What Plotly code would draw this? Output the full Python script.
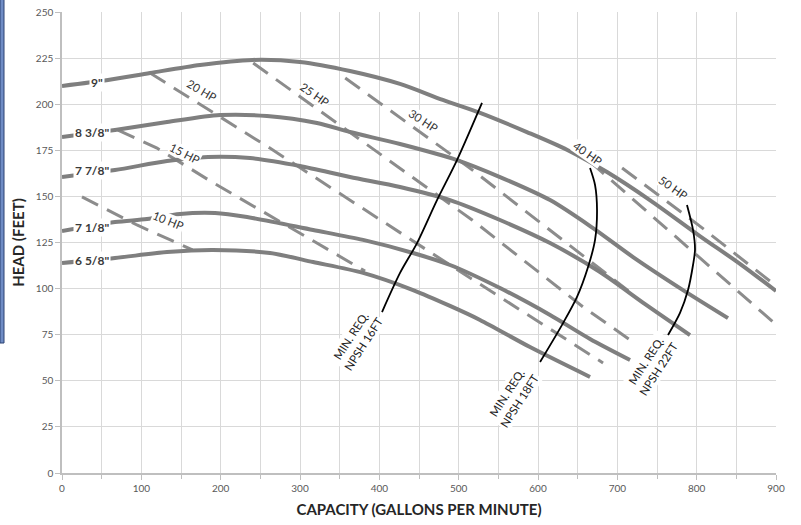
import plotly.graph_objects as go

# ---------------- data ----------------
# Impeller curves (capacity gpm, head ft)
imp_9_x = [0, 58, 111, 174, 240, 300, 363, 426, 480, 527, 586, 637, 687, 741, 804, 855, 900]
imp_9_y = [209.9, 213.1, 216.9, 221.3, 224.0, 222.9, 218.0, 211.0, 202.3, 195.3, 184.9, 175.2, 163.2, 148.0, 128.5, 113.3, 98.7]

imp_838_x = [0, 66.8, 132.4, 199.2, 258.4, 321.4, 363.0, 426.1, 497.9, 552.1, 615.2, 669.4, 719.8, 782.8, 839.5]
imp_838_y = [182.2, 186.0, 190.3, 194.1, 193.6, 189.8, 184.9, 178.4, 169.7, 160.5, 148.0, 132.8, 117.1, 99.2, 84.0]

imp_778_x = [0, 66.8, 132.4, 184.0, 237.0, 300.0, 363.0, 426.1, 489.1, 552.1, 615.2, 678.2, 735.0, 791.6]
imp_778_y = [160.5, 164.3, 169.2, 171.4, 170.8, 166.5, 160.5, 155.1, 148.0, 137.2, 124.7, 109.0, 91.6, 74.8]

imp_718_x = [0, 66.8, 107.1, 148.7, 192.9, 233.3, 316.5, 379.5, 442.5, 489.1, 552.1, 615.2, 665.6, 716.0]
imp_718_y = [131.2, 136.1, 137.7, 140.5, 141.0, 138.8, 131.8, 126.4, 119.3, 112.8, 100.3, 85.7, 72.7, 61.3]

imp_658_x = [0, 66.8, 132.4, 190.3, 262.2, 316.5, 379.5, 442.5, 489.1, 526.9, 589.9, 665.6]
imp_658_y = [113.9, 116.6, 119.8, 120.9, 119.3, 114.4, 108.5, 99.2, 90.6, 83.0, 68.3, 52.1]

impeller_names = ['9"', '8 3/8"', '7 7/8"', '7 1/8"', '6 5/8"']

# Horsepower lines
hp10_x = [25.2, 94.5, 164.5]
hp10_y = [149.7, 134.5, 121.0]
hp15_x = [70.6, 119.8, 189.0, 287.0, 382.0]
hp15_y = [186.0, 176.2, 157.8, 133.4, 109.5]
hp20_x = [111.0, 262.0, 489.0, 682.0]
hp20_y = [216.9, 176.2, 112.8, 59.7]
hp25_x = [241.0, 329.0, 517.0, 657.0, 720.0]
hp25_y = [222.3, 195.2, 137.2, 90.0, 71.0]
hp30_x = [357.0, 514.0, 719.0]
hp30_y = [214.2, 165.4, 97.1]
hp40_x = [666.0, 804.0, 900.0]
hp40_y = [168.7, 116.6, 80.5]
hp50_x = [706.0, 804.0, 900.0]
hp50_y = [165.4, 133.9, 101.5]

hp_names = ["10 HP", "15 HP", "20 HP", "25 HP", "30 HP", "40 HP", "50 HP"]

# NPSH curves
npsh16_x = [529.4, 497.9, 472.7, 447.5, 426.1, 403.4]
npsh16_y = [200.7, 169.7, 148.0, 124.7, 108.5, 87.3]
npsh18_x = [665.6, 671.9, 674.4, 671.9, 663.1, 649.2, 631.6, 602.6]
npsh18_y = [165.4, 156.2, 142.6, 126.4, 111.7, 95.5, 81.3, 60.2]
npsh22_x = [787.8, 795.4, 797.9, 795.4, 789.1, 779.0, 763.9]
npsh22_y = [145.3, 131.8, 121.0, 112.8, 99.2, 86.8, 74.8]

npsh_names = ["MIN. REQ.<br>NPSH 16FT", "MIN. REQ.<br>NPSH 18FT", "MIN. REQ.<br>NPSH 22FT"]

x_ticks = [0, 100, 200, 300, 400, 500, 600, 700, 800, 900]
y_ticks = [0, 25, 50, 75, 100, 125, 150, 175, 200, 225, 250]

# ---------------- figure ----------------
FONT = "Lato"
fig = go.Figure()

hp_sets = [(hp10_x, hp10_y), (hp15_x, hp15_y), (hp20_x, hp20_y), (hp25_x, hp25_y),
           (hp30_x, hp30_y), (hp40_x, hp40_y), (hp50_x, hp50_y)]
for (hx, hy), name in zip(hp_sets, hp_names):
    fig.add_trace(go.Scatter(x=hx, y=hy, mode="lines", name=name,
                             line=dict(color="#8c8c8c", width=3, dash="18px,10px"),
                             showlegend=False, hoverinfo="skip"))

imp_sets = [(imp_9_x, imp_9_y), (imp_838_x, imp_838_y), (imp_778_x, imp_778_y),
            (imp_718_x, imp_718_y), (imp_658_x, imp_658_y)]
for (ix, iy), name in zip(imp_sets, impeller_names):
    fig.add_trace(go.Scatter(x=ix, y=iy, mode="lines", name=name,
                             line=dict(color="#7f7f7f", width=4, shape="spline", smoothing=0.8),
                             showlegend=False))

npsh_sets = [(npsh16_x, npsh16_y), (npsh18_x, npsh18_y), (npsh22_x, npsh22_y)]
for (nx, ny), name in zip(npsh_sets, npsh_names):
    fig.add_trace(go.Scatter(x=nx, y=ny, mode="lines", name=name,
                             line=dict(color="#000000", width=1.8, shape="spline", smoothing=0.8),
                             showlegend=False))

# impeller labels
imp_label_pos = [(44.1, 212.0), (37.8, 184.9), (37.8, 164.3), (37.8, 132.9), (37.8, 115.0)]
for (lx, ly), name in zip(imp_label_pos, impeller_names):
    fig.add_annotation(x=lx, y=ly, text=name, showarrow=False,
                       font=dict(family=FONT, size=12, color="#3a3a3a", weight="bold"),
                       bgcolor="white", borderpad=1)

# hp labels
hp_label_pos = [(133.6, 136.7, 22), (155.0, 173.5, 27), (176.5, 207.7, 30), (319.0, 205.5, 35),
                (455.0, 190.9, 33), (663.0, 173.5, 35), (770.0, 154.6, 35)]
for (lx, ly, ang), name in zip(hp_label_pos, hp_names):
    fig.add_annotation(x=lx, y=ly, text=name, showarrow=False, textangle=ang,
                       font=dict(family=FONT, size=11.5, color="#333333"),
                       bgcolor="white", borderpad=0)

# npsh labels
npsh_label_pos = [(371.9, 72.1), (568.5, 41.2), (743.7, 58.6)]
for (lx, ly), name in zip(npsh_label_pos, npsh_names):
    fig.add_annotation(x=lx, y=ly, text=name, showarrow=False, textangle=-57,
                       font=dict(family=FONT, size=11.5, color="#222222"),
                       bgcolor="white", borderpad=1, align="center")

# left blue edge of the original screenshot
fig.add_shape(type="rect", xref="paper", yref="paper", x0=-62/714, x1=-58/714,
              y0=(525-52-343)/461, y1=(525-52)/461 + 12/461,
              fillcolor="#6f8cc4", line=dict(color="#2d4373", width=1), layer="above")

fig.update_layout(
    width=801, height=525,
    margin=dict(l=62, r=25, t=12, b=52, autoexpand=False),
    paper_bgcolor="white", plot_bgcolor="white",
    font=dict(family=FONT, color="#595959"),
    xaxis=dict(range=[0, 900], tickvals=x_ticks, ticktext=[str(v) for v in x_ticks],
               automargin=False,
               showgrid=True, gridcolor="#d9d9d9", gridwidth=1,
               minor=dict(dtick=50, showgrid=True, gridcolor="#d9d9d9", ticks="outside",
                          ticklen=4, tickcolor="#bfbfbf"),
               ticks="outside", ticklen=5, tickcolor="#bfbfbf",
               showline=True, linecolor="#bfbfbf", linewidth=1.5,
               tickfont=dict(size=10, color="#595959"), zeroline=False,
               title=dict(text="<b>CAPACITY (GALLONS PER MINUTE)</b>",
                          font=dict(size=15, color="#262626"), standoff=12)),
    yaxis=dict(range=[0, 250], tickvals=y_ticks, ticktext=[str(v) for v in y_ticks],
               automargin=False,
               showgrid=True, gridcolor="#d9d9d9", gridwidth=1,
               ticks="outside", ticklen=5, tickcolor="#bfbfbf",
               showline=True, linecolor="#bfbfbf", linewidth=1.5,
               tickfont=dict(size=10, color="#595959"), zeroline=False,
               title=dict(text="<b>HEAD (FEET)</b>",
                          font=dict(size=15, color="#262626"), standoff=8)),
)

fig.write_html("out.html", config={"displayModeBar": False},
               post_script="document.body.style.margin='0';document.body.style.overflow='hidden';")
